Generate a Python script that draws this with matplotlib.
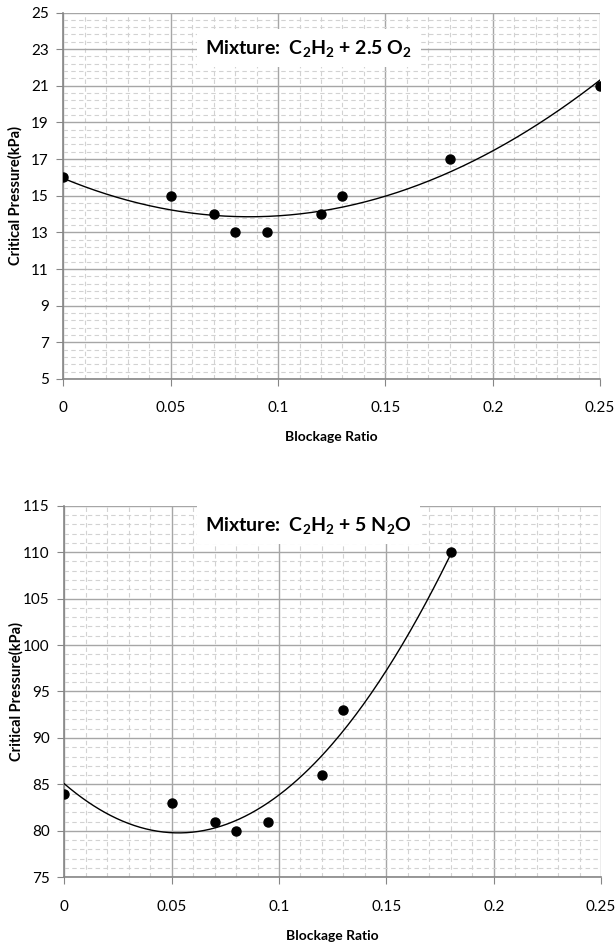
import matplotlib
matplotlib.use('Agg')
import matplotlib.pyplot as plt
import numpy as np
from matplotlib.ticker import FixedLocator, FuncFormatter

plt.rcParams['font.family'] = ['Lato', 'DejaVu Sans']
plt.rcParams['mathtext.fontset'] = 'custom'
plt.rcParams['mathtext.rm'] = 'Lato'
plt.rcParams['mathtext.bf'] = 'Lato:bold'

# C2H2 + 2.5 O2
ratio_o2 = [0, 0.05, 0.07, 0.08, 0.095, 0.12, 0.13, 0.18, 0.25]
press_o2 = [16, 15, 14, 13, 13, 14, 15, 17, 21]

# C2H2 + 5 N2O
ratio_n2o = [0, 0.05, 0.07, 0.08, 0.095, 0.12, 0.13, 0.18]
press_n2o = [84, 83, 81, 80, 81, 86, 93, 110]

title_o2 = r'Mixture:  $\mathbf{C_2H_2}$ + 2.5 $\mathbf{O_2}$'
title_n2o = r'Mixture:  $\mathbf{C_2H_2}$ + 5 $\mathbf{N_2}$O'

grid_major = '#a6a6a6'
grid_minor = '#d2d2d2'
axis_col = '#868686'


def draw_panel(ax, xs, ys, ylim, ymaj, ymin, title, title_xy):
    # excel style 2nd order trendline
    c = np.polyfit(xs, ys, 2)
    xf = np.linspace(min(xs), max(xs), 200)
    ax.plot(xf, np.polyval(c, xf), color='k', lw=1.0, zorder=3)
    ax.plot(xs, ys, 'o', color='k', ms=6.5, zorder=4)

    ax.set_xlim(0, 0.25)
    ax.set_ylim(*ylim)
    ax.xaxis.set_major_locator(FixedLocator(np.linspace(0, 0.25, 6)))
    ax.xaxis.set_minor_locator(FixedLocator(np.linspace(0, 0.25, 26)))
    nmaj = int(round((ylim[1] - ylim[0]) / ymaj)) + 1
    nmin = int(round((ylim[1] - ylim[0]) / ymin)) + 1
    ax.yaxis.set_major_locator(FixedLocator(np.linspace(ylim[0], ylim[1], nmaj)))
    ax.yaxis.set_minor_locator(FixedLocator(np.linspace(ylim[0], ylim[1], nmin)))
    ax.xaxis.set_major_formatter(FuncFormatter(lambda v, p: '{:g}'.format(round(v, 3))))
    ax.yaxis.set_major_formatter(FuncFormatter(lambda v, p: '{:g}'.format(round(v, 3))))

    ax.set_axisbelow(True)
    ax.grid(which='major', color=grid_major, lw=1.0, ls='-')
    ax.grid(which='minor', color=grid_minor, lw=0.8, ls=(0, (4, 3)))

    for s in ['top', 'right']:
        ax.spines[s].set_visible(False)
    for s in ['left', 'bottom']:
        ax.spines[s].set_color(axis_col)
        ax.spines[s].set_linewidth(1.2)
    ax.tick_params(which='major', length=5, color=axis_col, labelsize=11)
    ax.tick_params(axis='y', which='major', pad=5.5)
    ax.tick_params(axis='x', which='major', pad=11)
    ax.tick_params(which='minor', length=0)

    ax.set_xlabel('Blockage Ratio', fontsize=10, fontweight='bold', va='center')
    ax.set_ylabel('Critical Pressure(kPa)', fontsize=10.5, fontweight='bold', va='center')
    ax.xaxis.set_label_coords(0.5, -0.158)
    ax.yaxis.set_label_coords(-0.089, 0.5)

    ax.text(title_xy[0], title_xy[1], title, transform=ax.transAxes,
            ha='center', va='center', fontsize=14, fontweight='bold', zorder=5,
            bbox=dict(facecolor='white', edgecolor='none', pad=6))


fig = plt.figure(figsize=(6.15, 9.47), dpi=100)
ax1 = fig.add_axes([0.103, 0.5998, 0.8728, 0.387])
ax2 = fig.add_axes([0.1046, 0.0736, 0.8727, 0.3924])

draw_panel(ax1, ratio_o2, press_o2, (5, 25), 2, 0.4, title_o2, (0.457, 0.903))
draw_panel(ax2, ratio_n2o, press_n2o, (75, 115), 5, 1, title_n2o, (0.455, 0.948))

fig.savefig('out.png', dpi=100)
